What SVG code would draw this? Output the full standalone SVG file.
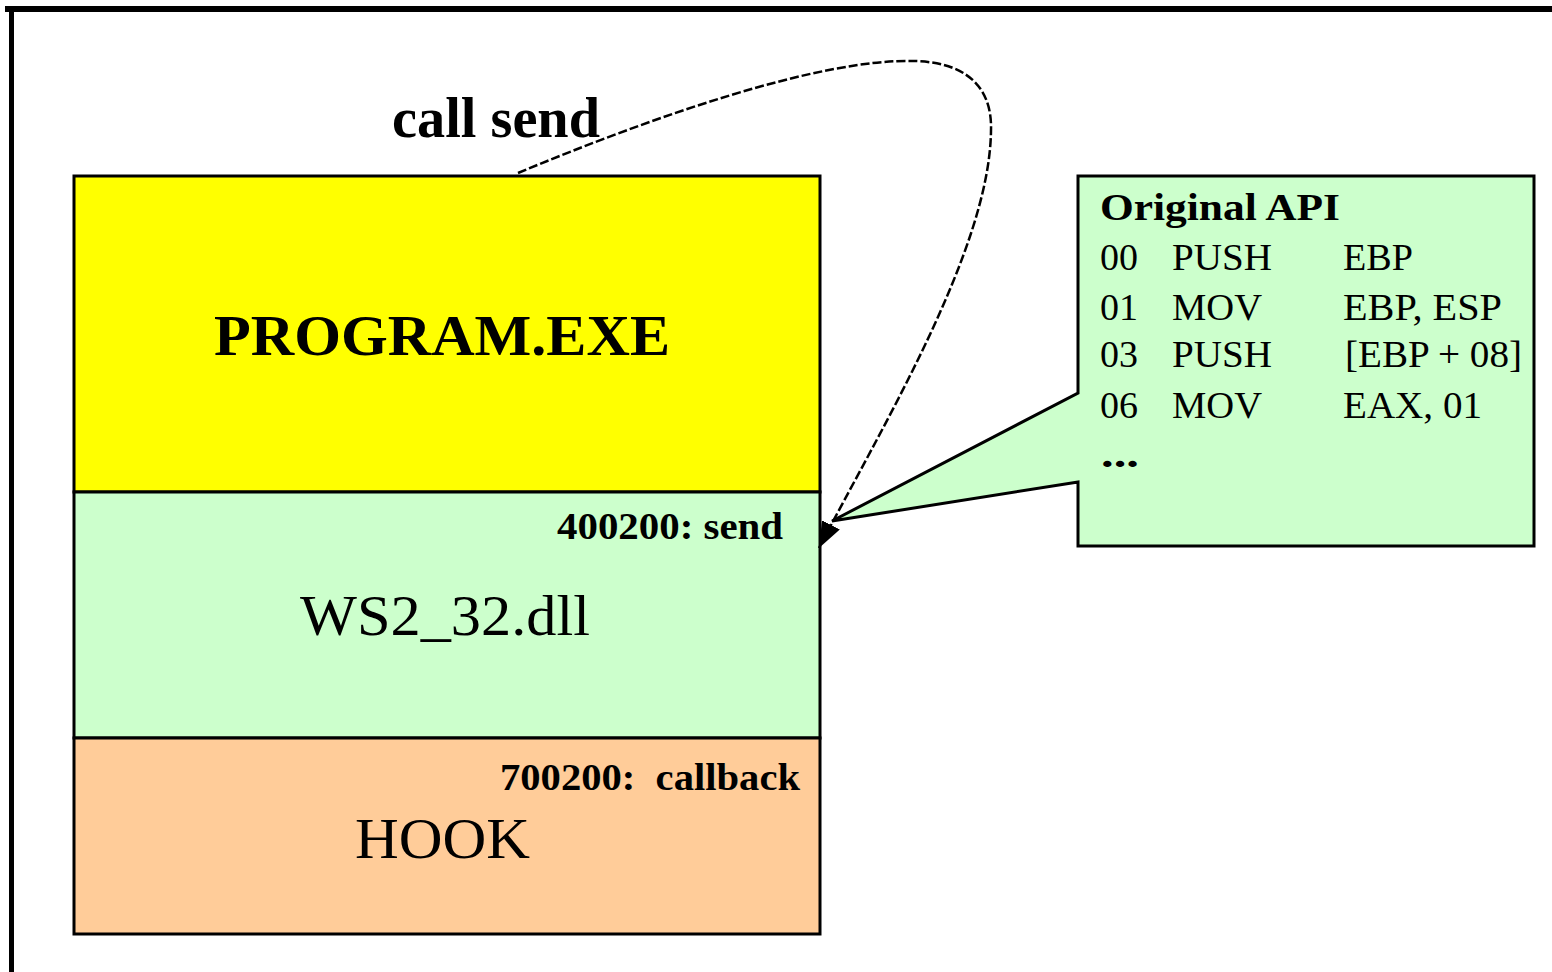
<svg xmlns="http://www.w3.org/2000/svg" width="1552" height="972" viewBox="0 0 1552 972">
  <style>
    .box { stroke: #000; stroke-width: 3; }
    .t { font-family: "Liberation Serif", "Times New Roman", serif; fill: #000; }
    .b { font-weight: bold; }
    .conn { fill: none; stroke: #000; stroke-width: 2.5; stroke-dasharray: 9 3; }
    .code { font-size: 38px; }
  </style>
  <defs>
    <marker id="arrow" markerUnits="userSpaceOnUse" markerWidth="28" markerHeight="22" refX="26" refY="10" orient="auto">
      <path d="M0,0 L26,10 L0,20 z" fill="#000"/>
    </marker>
  </defs>
  <rect width="1552" height="972" fill="#fff"/>
  <g id="frame">
    <rect x="5" y="6" width="1547" height="6" fill="#000"/>
    <rect x="9" y="6" width="5" height="966" fill="#000"/>
  </g>

  <g id="program">
    <rect class="box" x="74" y="176" width="746" height="316" fill="#ffff00"/>
    <text class="t b" x="214" y="355" font-size="58" textLength="456" lengthAdjust="spacingAndGlyphs">PROGRAM.EXE</text>
  </g>

  <g id="ws2_32">
    <rect class="box" x="74" y="492" width="746" height="246" fill="#ccffcc"/>
    <text class="t b" x="557" y="539" font-size="38" textLength="226" lengthAdjust="spacingAndGlyphs">400200: send</text>
    <text class="t" x="300" y="635" font-size="58" textLength="290" lengthAdjust="spacingAndGlyphs">WS2_32.dll</text>
  </g>

  <g id="hook">
    <rect class="box" x="74" y="738" width="746" height="196" fill="#ffcc99"/>
    <text class="t b" x="500" y="790" font-size="38" textLength="300" lengthAdjust="spacingAndGlyphs" xml:space="preserve">700200:  callback</text>
    <text class="t" x="355" y="858" font-size="56" textLength="175" lengthAdjust="spacingAndGlyphs">HOOK</text>
  </g>

  <g id="original-api">
    <path class="box" d="M1078,176 L1534,176 L1534,546 L1078,546 L1078,482 L832,521 L1078,393 Z" fill="#ccffcc"/>
    <text class="t b" x="1100" y="220" font-size="38" textLength="240" lengthAdjust="spacingAndGlyphs">Original API</text>
    <g class="t code">
      <text x="1100" y="270" textLength="38" lengthAdjust="spacingAndGlyphs">00</text>
      <text x="1172" y="270" textLength="100" lengthAdjust="spacingAndGlyphs">PUSH</text>
      <text x="1343" y="270" textLength="70" lengthAdjust="spacingAndGlyphs">EBP</text>
      <text x="1100" y="320" textLength="38" lengthAdjust="spacingAndGlyphs">01</text>
      <text x="1172" y="320" textLength="90" lengthAdjust="spacingAndGlyphs">MOV</text>
      <text x="1343" y="320" textLength="159" lengthAdjust="spacingAndGlyphs">EBP, ESP</text>
      <text x="1100" y="367" textLength="38" lengthAdjust="spacingAndGlyphs">03</text>
      <text x="1172" y="367" textLength="100" lengthAdjust="spacingAndGlyphs">PUSH</text>
      <text x="1345" y="367" textLength="177" lengthAdjust="spacingAndGlyphs">[EBP + 08]</text>
      <text x="1100" y="418" textLength="38" lengthAdjust="spacingAndGlyphs">06</text>
      <text x="1172" y="418" textLength="90" lengthAdjust="spacingAndGlyphs">MOV</text>
      <text x="1343" y="418" textLength="139" lengthAdjust="spacingAndGlyphs">EAX, 01</text>
    </g>
    <text class="t b" x="1101" y="467" font-size="38" textLength="38" lengthAdjust="spacingAndGlyphs">...</text>
  </g>

  <g id="connectors">
    <path class="conn" d="M518,173 C650,118 820,58 915,61 C975,63 992,95 991,130 C990,250 880,430 819,548" marker-end="url(#arrow)"/>
    <text class="t b" x="392" y="137" font-size="56" textLength="208" lengthAdjust="spacingAndGlyphs">call send</text>
  </g>
</svg>
